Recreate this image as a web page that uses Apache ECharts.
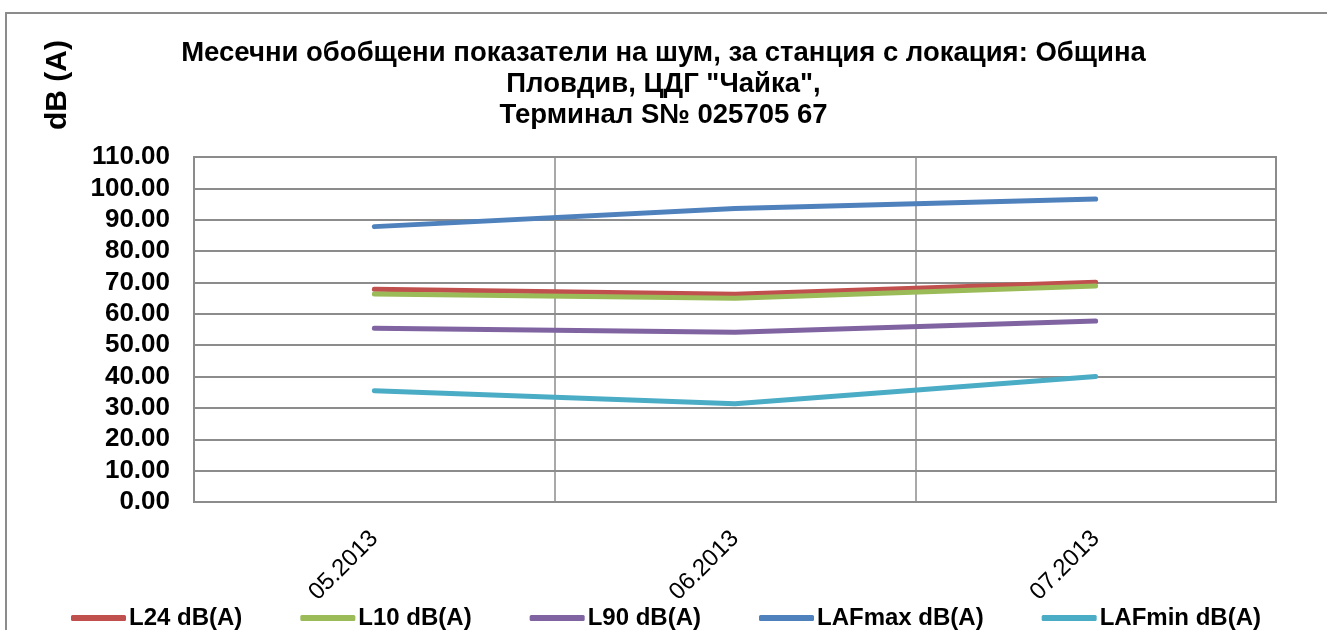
<!DOCTYPE html>
<html>
<head>
<meta charset="utf-8">
<script src="https://cdn.jsdelivr.net/npm/echarts@6/dist/echarts.min.js"></script>
<style>
	html, body { margin: 0; padding: 0; background: #fff; }
	#chart { width: 1327px; height: 630px; }
</style>
</head>
<body>
<div id="chart"></div>
<script>
	var months = ['05.2013', '06.2013', '07.2013'];
	var seriesNames = ['L24 dB(A)', 'L10 dB(A)', 'L90 dB(A)', 'LAFmax dB(A)', 'LAFmin dB(A)'];
	var l24 = [67.8, 66.2, 70.1];
	var l10 = [66.3, 65.0, 68.9];
	var l90 = [55.4, 54.1, 57.7];
	var lafMax = [87.8, 93.6, 96.6];
	var lafMin = [35.5, 31.3, 40.0];
	var colors = ['#C0504D', '#9BBB59', '#8064A2', '#4F81BD', '#4BACC6'];

	var font = '"Liberation Sans", Arial, sans-serif';
	var charts = echarts.init(document.getElementById('chart'));

	function line(name, data, color) {
		return {
			name : name,
			type : 'line',
			data : data,
			symbol : 'none',
			lineStyle : {
				width : 5,
				color : color,
				cap : 'round',
				join : 'round'
			},
			itemStyle : {
				color : color
			}
		};
	}

	option = {
		animation : false,
		title : {
			text : 'Месечни обобщени показатели на шум, за станция с локация: Община\nПловдив, ЦДГ "Чайка",\nТерминал S№ 025705 67',
			left : 'center',
			top : 33,
			textStyle : {
				fontFamily : font,
				fontWeight : 'bold',
				fontSize : 27.5,
				lineHeight : 31,
				color : '#000'
			}
		},
		graphic : [{
			type : 'line',
			shape : { x1 : 5, y1 : 13, x2 : 1327, y2 : 13 },
			style : { stroke : '#8c8c8c', lineWidth : 2 }
		}, {
			type : 'line',
			shape : { x1 : 6, y1 : 13, x2 : 6, y2 : 630 },
			style : { stroke : '#8c8c8c', lineWidth : 2 }
		}, {
			type : 'text',
			x : 58,
			y : 85,
			rotation : Math.PI / 2,
			style : {
				text : 'dB (A)',
				font : 'bold 30px ' + font,
				fill : '#000',
				align : 'center',
				verticalAlign : 'middle'
			}
		}],
		legend : {
			data : seriesNames,
			left : 66,
			top : 601,
			itemWidth : 55,
			itemHeight : 6,
			itemGap : 58,
			icon : 'roundRect',
			textStyle : {
				fontFamily : font,
				fontWeight : 'bold',
				fontSize : 24,
				color : '#000',
				padding : [0, 0, 0, -2]
			}
		},
		grid : {
			left : 194,
			right : 51,
			top : 157,
			bottom : 128,
			show : true,
			borderColor : '#8c8c8c',
			borderWidth : 2
		},
		xAxis : {
			type : 'category',
			data : months,
			boundaryGap : true,
			axisLine : { show : false },
			axisTick : { show : false },
			splitLine : {
				show : true,
				lineStyle : { color : '#8c8c8c', width : 1.5 }
			},
			axisLabel : {
				rotate : 45,
				margin : 33,
				fontFamily : font,
				fontSize : 24,
				color : '#000'
			}
		},
		yAxis : {
			type : 'value',
			min : 0,
			max : 110,
			interval : 10,
			axisLine : { show : false },
			axisTick : { show : false },
			splitLine : {
				lineStyle : { color : '#8c8c8c', width : 2 }
			},
			axisLabel : {
				margin : 24,
				fontFamily : font,
				fontWeight : 'bold',
				fontSize : 26,
				color : '#000',
				formatter : function(v) {
					return v.toFixed(2);
				}
			}
		},
		series : [
			line(seriesNames[0], l24, colors[0]),
			line(seriesNames[1], l10, colors[1]),
			line(seriesNames[2], l90, colors[2]),
			line(seriesNames[3], lafMax, colors[3]),
			line(seriesNames[4], lafMin, colors[4])
		]
	};

	charts.setOption(option);
</script>
</body>
</html>
